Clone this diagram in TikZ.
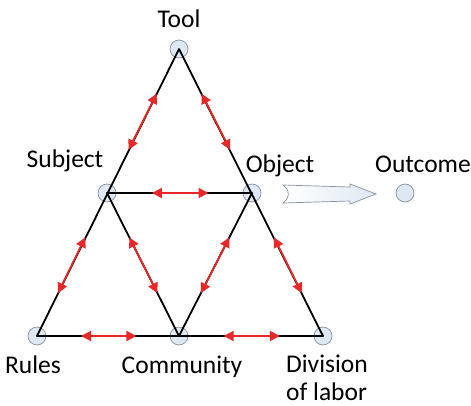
\documentclass[tikz,border=0pt]{standalone}
\usepackage{fontspec}
\setmainfont{Carlito}
\usetikzlibrary{
    arrows.meta,
    calc,
    positioning
}
\definecolor{relred}{RGB}{232,40,40}
\definecolor{dotfill}{RGB}{222,232,243}
\definecolor{dotline}{RGB}{135,145,160}
\tikzset{
    vertex/.style={circle, draw=dotline, fill=dotfill, line width=0.7pt, minimum size=18pt, inner sep=0pt},
    tag/.style={font=\fontsize{25.5}{28}\selectfont, inner sep=0pt, anchor=base},
    side/.style={black, line width=1.8pt, line join=round},
    rel/.style={relred, line width=1.8pt, {Triangle[length=10pt, width=10pt]}-{Triangle[length=10pt, width=10pt]}}
}

\begin{document}
\begin{tikzpicture}[x=1pt, y=-1pt]
                        \useasboundingbox (0, 0) rectangle (471, 405);
                        \node[vertex] (tool) at (179, 49) {};
                        \node[vertex] (subject) at (107, 193) {};
                        \node[vertex] (object) at (252, 193) {};
                        \node[vertex] (rules) at (37, 336) {};
                        \node[vertex] (community) at (179, 336) {};
                        \node[vertex] (division) at (323, 336) {};
                        \node[vertex] (outcome) at (405, 193) {};
                        \node[tag] (tooltext) at (179, 27) {Tool};
                        \node[tag] (subjecttext) at (65, 167) {Subject};
                        \node[tag] (objecttext) at (280, 172) {Object};
                        \node[tag] (outcometext) at (423, 172) {Outcome};
                        \node[tag] (rulestext) at (33, 373) {Rules};
                        \node[tag] (communitytext) at (182, 373) {Community};
                        \node[tag, anchor=base west, align=left] (divisiontext) at (286, 400) {Division\\of labor};
                        \draw[side] (tool.center) -- (rules.center) -- (division.center) -- cycle;
                        \draw[side] (subject.center) -- (object.center) -- (community.center) -- cycle;
                        \foreach \a/\b in {tool/subject, tool/object, subject/object, subject/rules, subject/community,
                                           object/community, object/division, rules/community, community/division}
                            \draw[rel] ($(\a)!0.31!(\b)$) -- ($(\a)!0.70!(\b)$);
                        \draw[dotline, line width=0.7pt, left color=white, right color=dotfill]
                            (283, 185) -- (350, 187) -- (350, 184) -- (376, 194) -- (350, 204) -- (350, 201) -- (283, 203)
                            .. controls (290, 198) and (290, 190) .. (283, 185) -- cycle;
                    \end{tikzpicture}
\end{document}
